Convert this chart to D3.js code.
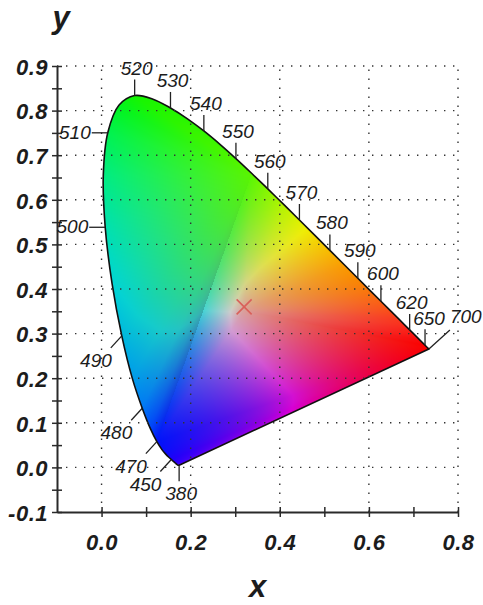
<!DOCTYPE html>
<html>
<head>
<meta charset="utf-8">
<script src="https://cdn.jsdelivr.net/npm/d3@7"></script>
<style>
  body { margin:0; background:#fff; }
  svg { display:block; }
  text { font-family: "Liberation Sans", Arial, sans-serif; fill:#1c1c1c; }
</style>
</head>
<body>
<div id="chart"></div>
<script>
// spectral locus (CIE 1931 2deg), 5 nm steps
const wavelengths = [380,385,390,395,400,405,410,415,420,425,430,435,440,445,450,455,460,465,470,475,480,485,490,495,500,505,510,515,520,525,530,535,540,545,550,555,560,565,570,575,580,585,590,595,600,605,610,615,620,625,630,635,640,645,650,655,660,665,670,675,680,685,690,695,700];
const locusX = [0.1741,0.1740,0.1738,0.1736,0.1733,0.1730,0.1726,0.1721,0.1714,
  0.1703,0.1689,0.1669,0.1644,0.1611,0.1566,0.1510,0.1440,0.1355,0.1241,
  0.1096,0.0913,0.0687,0.0454,0.0235,0.0082,0.0039,0.0139,0.0389,0.0743,
  0.1142,0.1547,0.1929,0.2296,0.2658,0.3016,0.3373,0.3731,0.4087,0.4441,
  0.4788,0.5125,0.5448,0.5752,0.6029,0.6270,0.6482,0.6658,0.6801,0.6915,
  0.7006,0.7079,0.7140,0.7190,0.7230,0.7260,0.7283,0.7300,0.7311,0.7320,
  0.7327,0.7334,0.7340,0.7344,0.7346,0.7347];
const locusY = [0.0050,0.0050,0.0049,0.0049,0.0048,0.0048,0.0048,0.0048,0.0051,
  0.0058,0.0069,0.0086,0.0109,0.0138,0.0177,0.0227,0.0297,0.0399,0.0578,
  0.0868,0.1327,0.2007,0.2950,0.4127,0.5384,0.6548,0.7502,0.8120,0.8338,
  0.8262,0.8059,0.7816,0.7543,0.7243,0.6923,0.6589,0.6245,0.5896,0.5547,
  0.5202,0.4866,0.4544,0.4242,0.3965,0.3725,0.3514,0.3340,0.3197,0.3083,
  0.2993,0.2920,0.2859,0.2809,0.2770,0.2740,0.2717,0.2700,0.2689,0.2680,
  0.2673,0.2666,0.2660,0.2656,0.2654,0.2653];

const labelWl = [380,450,470,480,490,500,510,520,530,540,550,560,570,580,590,600,620,650,700];

const xTicks = [0.0,0.2,0.4,0.6,0.8];
const xMinor = [0.1,0.3,0.5,0.7];
const yTicks = [-0.1,0.0,0.1,0.2,0.3,0.4,0.5,0.6,0.7,0.8,0.9];
const yMinor = [-0.05,0.05,0.15,0.25,0.35,0.45,0.55,0.65,0.75,0.85];

// measured sample point
const sampleX = [0.32];
const sampleY = [0.36];

// colour at the edge of the tongue, by wavelength
const hueStops  = [380,420,450,470,475,480,485,490,495,500,505,510,515,520,540,550,555,560,565,570,575,580,585,590,595,600,610,620,635,650,700];
const hueColors = ["#6e00ff","#4600ff","#1e00ff","#0014ff","#0046ff","#0078f5","#0096e1","#00aacd","#00bebe","#00d2a5","#00e680","#00f050","#00f51e","#14f500","#28f500","#3cf500","#5af500","#82f000","#aae600","#c8dc00","#e1cd00","#f5b900","#ffa000","#ff8c00","#ff780a","#ff6414","#ff3c1e","#ff2319","#ff0a0a","#ff0000","#ff0000"];
const centerXY = [0.32, 0.35];
const centerRGB = [0.58, 0.42, 0.41];

const width = 483, height = 605;
const x = d3.scaleLinear().domain([-0.1, 0.8]).range([57, 458]);
const y = d3.scaleLinear().domain([-0.1, 0.9]).range([512, 66]);
const hue = d3.scaleLinear().domain(hueStops).range(hueColors).clamp(true);

const svg = d3.select("#chart").append("svg")
  .attr("width", width).attr("height", height);

const pts = wavelengths.map((w, i) => ({w: w, x: locusX[i], y: locusY[i]}));

// ---- shaded fill: triangles with vertex colours ----
const rgbOf = w => { const c = d3.rgb(hue(w)); return [c.r/255, c.g/255, c.b/255]; };
const V = pts.map(p => ({px: x(p.x), py: y(p.y), c: rgbOf(p.w)}));
const Wc = {px: x(centerXY[0]), py: y(centerXY[1]), c: centerRGB};
const iB = wavelengths.indexOf(470), iG = wavelengths.indexOf(555), iR = wavelengths.indexOf(700);
// [apex, edgeA, edgeB, outer edge lies on the locus, brightening power]
const tris = [];
for (let i = iB; i < iG - 1; i++) tris.push([V[iG], V[i], V[i+1], true, 0.45]);
for (let i = 0; i < iB; i++) tris.push([V[iR], V[i], V[i+1], true, 0.75]);
for (let i = iG; i < iR; i++) tris.push([Wc, V[i], V[i+1], true, 0.75]);
tris.push([Wc, V[iR], V[iB], false, 0.75], [Wc, V[iB], V[iG], false, 0.75]);

const cv = document.createElement("canvas");
cv.width = width; cv.height = height;
const ctx = cv.getContext("2d");
const img = ctx.createImageData(width, height);

function paint(a, b, c, reach, pw){
  const det = (b.py - c.py) * (a.px - c.px) + (c.px - b.px) * (a.py - c.py);
  if (Math.abs(det) < 1e-9) return;
  const pad = reach > 0.01 ? 12 : 1;
  const x0 = Math.max(0, Math.floor(Math.min(a.px, b.px, c.px)) - pad);
  const x1 = Math.min(width - 1, Math.ceil(Math.max(a.px, b.px, c.px)) + pad);
  const y0 = Math.max(0, Math.floor(Math.min(a.py, b.py, c.py)) - pad);
  const y1 = Math.min(height - 1, Math.ceil(Math.max(a.py, b.py, c.py)) + pad);
  for (let py = y0; py <= y1; py++) {
    for (let px = x0; px <= x1; px++) {
      const sx = px + 0.5, sy = py + 0.5;
      const l1 = ((b.py - c.py) * (sx - c.px) + (c.px - b.px) * (sy - c.py)) / det;
      const l2 = ((c.py - a.py) * (sx - c.px) + (a.px - c.px) * (sy - c.py)) / det;
      const l3 = 1 - l1 - l2;
      if (l1 < -reach || l2 < -1e-6 || l3 < -1e-6) continue;
      const w1 = Math.max(l1, 0), s = w1 + l2 + l3;
      const r  = (w1*a.c[0] + l2*b.c[0] + l3*c.c[0]) / s;
      const g  = (w1*a.c[1] + l2*b.c[1] + l3*c.c[1]) / s;
      const bl = (w1*a.c[2] + l2*b.c[2] + l3*c.c[2]) / s;
      const m = Math.max(r, g, bl, 1e-4);
      const k = Math.pow(m, -pw);
      const o = (py * width + px) * 4;
      img.data[o]   = Math.min(250, r * k * 250);
      img.data[o+1] = Math.min(250, g * k * 250);
      img.data[o+2] = Math.min(250, bl * k * 250);
      img.data[o+3] = 255;
    }
  }
}
// first a pass reaching past the locus edge (so the smooth outline is covered), then the exact pass
tris.filter(t => t[3]).forEach(t => paint(t[0], t[1], t[2], 0.12, t[4]));
tris.forEach(t => paint(t[0], t[1], t[2], 1e-6, t[4]));
ctx.putImageData(img, 0, 0);

const line = d3.line().x(d => x(d.x)).y(d => y(d.y)).curve(d3.curveCatmullRom.alpha(0.5));
const locusPath = line(pts) + "Z";
svg.append("defs").append("clipPath").attr("id", "locus-clip")
  .append("path").attr("d", locusPath);

svg.append("image")
  .attr("href", cv.toDataURL())
  .attr("width", width).attr("height", height)
  .attr("clip-path", "url(#locus-clip)");

svg.append("path")
  .attr("d", locusPath)
  .attr("fill", "none")
  .attr("stroke", "#111")
  .attr("stroke-width", 1.6)
  .attr("stroke-linejoin", "round");

// ---- dotted grid ----
const grid = svg.append("g")
  .attr("stroke", "#333")
  .attr("stroke-width", 1.4)
  .attr("stroke-dasharray", "1.4,7.6");
grid.selectAll("line.v").data(xTicks).join("line").attr("class", "v")
  .attr("x1", d => x(d)).attr("x2", d => x(d))
  .attr("y1", y(-0.1)).attr("y2", y(0.9));
grid.selectAll("line.h").data(yTicks.filter(d => d > -0.1)).join("line").attr("class", "h")
  .attr("x1", x(-0.1)).attr("x2", x(0.8))
  .attr("y1", d => y(d)).attr("y2", d => y(d));

// ---- axes ----
const fmt = d => d.toFixed(1);
function styleAxis(g, horizontal){
  g.select(".domain").attr("stroke", "#2a2a2a").attr("stroke-width", 2);
  g.selectAll(".tick line").attr("stroke", "#2a2a2a").attr("stroke-width", 1.5);
  if (horizontal) g.selectAll(".tick line").attr("y1", -5).attr("y2", 5);
  else g.selectAll(".tick line").attr("x1", -5).attr("x2", 5);
  g.selectAll("text")
    .attr("font-size", 22)
    .attr("font-weight", "bold")
    .attr("font-style", "italic")
    .attr("letter-spacing", 0.5);
}

const gy = svg.append("g").attr("transform", `translate(${x(-0.1)},0)`)
  .call(d3.axisLeft(y).tickValues(yTicks).tickFormat(fmt).tickSize(5).tickPadding(4).tickSizeOuter(0));
styleAxis(gy, false);
gy.selectAll("text").attr("dy", "0.38em");
const gyMinor = svg.append("g").attr("transform", `translate(${x(-0.1)},0)`)
  .call(d3.axisLeft(y).tickValues(yMinor).tickFormat("").tickSize(5).tickSizeOuter(0));
gyMinor.select(".domain").remove();
styleAxis(gyMinor, false);

const gx = svg.append("g").attr("transform", `translate(0,${y(-0.1)})`)
  .call(d3.axisBottom(x).tickValues(xTicks).tickFormat(fmt).tickSize(5).tickPadding(17).tickSizeOuter(0));
styleAxis(gx, true);
const gxMinor = svg.append("g").attr("transform", `translate(0,${y(-0.1)})`)
  .call(d3.axisBottom(x).tickValues(xMinor).tickFormat("").tickSize(5).tickSizeOuter(0));
gxMinor.select(".domain").remove();
styleAxis(gxMinor, true);

// axis titles
svg.append("text").attr("x", 61).attr("y", 28)
  .attr("text-anchor", "middle").attr("font-size", 31)
  .attr("font-weight", "bold").attr("font-style", "italic").text("y");
svg.append("text").attr("x", (x(-0.1) + x(0.8)) / 2).attr("y", 597)
  .attr("text-anchor", "middle").attr("font-size", 31)
  .attr("font-weight", "bold").attr("font-style", "italic").text("x");

// ---- wavelength ticks and labels ----
function place(w, px, py){
  if (w === 380) return {x2: px, y2: py + 16, tx: px + 2, ty: py + 35, anchor: "middle"};
  if (w <= 490) return {x2: px - 11, y2: py + 12, tx: px - 10, ty: py + 31, anchor: "end"};
  if (w <= 510) return {x2: px - 16, y2: py, tx: px - 17, ty: py + 6, anchor: "end"};
  if (w === 700) return {x2: px + 21, y2: py - 19, tx: px + 21, ty: py - 26, anchor: "start"};
  if (w === 650) return {x2: px, y2: py - 16, tx: px + 4, ty: py - 20, anchor: "middle"};
  return {x2: px, y2: py - 16, tx: px + 2, ty: py - 21, anchor: "middle"};
}
const labelData = labelWl.map(w => {
  const p = pts[wavelengths.indexOf(w)];
  const px = x(p.x), py = y(p.y);
  return Object.assign({w: w, px: px, py: py}, place(w, px, py));
});
const wl = svg.append("g");
wl.selectAll("line").data(labelData).join("line")
  .attr("x1", d => d.px).attr("y1", d => d.py)
  .attr("x2", d => d.x2).attr("y2", d => d.y2)
  .attr("stroke", "#222").attr("stroke-width", 1.3);
wl.selectAll("text").data(labelData).join("text")
  .attr("x", d => d.tx).attr("y", d => d.ty)
  .attr("text-anchor", d => d.anchor)
  .attr("font-size", 19)
  .attr("font-style", "italic")
  .text(d => d.w);

// ---- sample marker ----
svg.selectAll("path.sample").data(sampleX.map((d, i) => [d, sampleY[i]])).join("path")
  .attr("class", "sample")
  .attr("d", d => {
    const cx = x(d[0]), cy = y(d[1]), r = 7.5;
    return `M${cx-r},${cy-r}L${cx+r},${cy+r}M${cx-r},${cy+r}L${cx+r},${cy-r}`;
  })
  .attr("fill", "none")
  .attr("stroke", "#d9605a")
  .attr("stroke-width", 1.6);
</script>
</body>
</html>
